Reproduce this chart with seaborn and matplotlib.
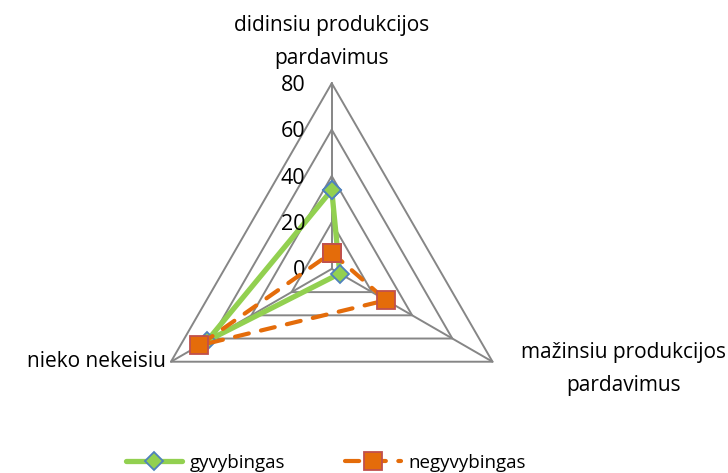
import numpy as np
import pandas as pd
import matplotlib
matplotlib.use("Agg")
import matplotlib.pyplot as plt
import seaborn as sns

# data
categories = ["didinsiu produkcijos\npardavimus",
              "mažinsiu produkcijos\npardavimus",
              "nieko nekeisiu"]
gyvybingas = [34, 4, 62]
negyvybingas = [7, 27, 66]
r_ticks = [0, 20, 40, 60, 80]

sns.set_style("white")
plt.rcParams['font.family'] = ['Open Sans', 'DejaVu Sans']
plt.rcParams['text.color'] = 'black'

fig = plt.figure(figsize=(7.28, 4.73), dpi=100)
ax = fig.add_axes([0.2007, 0.039, 0.51, 0.785], projection='polar')
ax.set_theta_zero_location('N')
ax.set_theta_direction(-1)

n = len(categories)
theta = np.linspace(0, 2 * np.pi, n, endpoint=False)
theta_c = np.append(theta, theta[0])

# polygon grid + spokes instead of circles
grid_col = '#868686'
for r in r_ticks[1:]:
    ax.plot(theta_c, [r] * (n + 1), color=grid_col, lw=1.4, zorder=1, clip_on=False)
for t in theta:
    ax.plot([t, t], [0, r_ticks[-1]], color=grid_col, lw=1.4, zorder=1, clip_on=False)

df = pd.DataFrame({
    "theta": np.concatenate([theta_c, theta_c]),
    "val": gyvybingas + gyvybingas[:1] + negyvybingas + negyvybingas[:1],
    "serie": ["gyvybingas"] * (n + 1) + ["negyvybingas"] * (n + 1),
})

g = df[df.serie == "gyvybingas"]
sns.lineplot(data=g, x="theta", y="val", ax=ax, sort=False, estimator=None,
             color='#92D050', lw=3.8, marker='D', markersize=9,
             markerfacecolor='#92D050', markeredgecolor='#4F81BD', markeredgewidth=1.3,
             label="gyvybingas", zorder=3, clip_on=False)
ng = df[df.serie == "negyvybingas"]
sns.lineplot(data=ng, x="theta", y="val", ax=ax, sort=False, estimator=None,
             color='#E46C0A', lw=3.0, linestyle=(0, (3.4, 3.0)), dash_capstyle='round',
             marker='s', markersize=13.5,
             markerfacecolor='#E46C0A', markeredgecolor='#C0504D', markeredgewidth=1.3,
             label="negyvybingas", zorder=4, clip_on=False)

ax.set_ylim(0, r_ticks[-1])
ax.grid(False)
ax.spines['polar'].set_visible(False)
ax.set_xticks([])
ax.set_yticks([])
ax.set_xlabel("")
ax.set_ylabel("")
ax.patch.set_alpha(0)

# radial values left of the top spoke
for r in r_ticks:
    ax.annotate(str(r), xy=(0, r), xytext=(-19, -1.5), textcoords='offset points',
                ha='right', va='center', fontsize=15.5, color='black')

# category labels
ax.annotate(categories[0], xy=(0, r_ticks[-1]), xytext=(0, 10), textcoords='offset points',
            ha='center', va='bottom', fontsize=15, linespacing=1.75, color='black')
ax.annotate(categories[1], xy=(theta[1], r_ticks[-1]), xytext=(94, 14), textcoords='offset points',
            ha='center', va='top', fontsize=15, linespacing=1.75, color='black')
ax.annotate(categories[2], xy=(theta[2], r_ticks[-1]), xytext=(-4, 0), textcoords='offset points',
            ha='right', va='center', fontsize=15, color='black')

ax.get_legend().remove()
handles, labels = ax.get_legend_handles_labels()
fig.legend(handles, labels, loc='center', bbox_to_anchor=(326 / 728, 1 - 463 / 473),
           ncol=2, frameon=False, fontsize=13.5, handlelength=3.0, handletextpad=0.4,
           columnspacing=3.2, numpoints=1)

fig.savefig("out.png", dpi=100)
